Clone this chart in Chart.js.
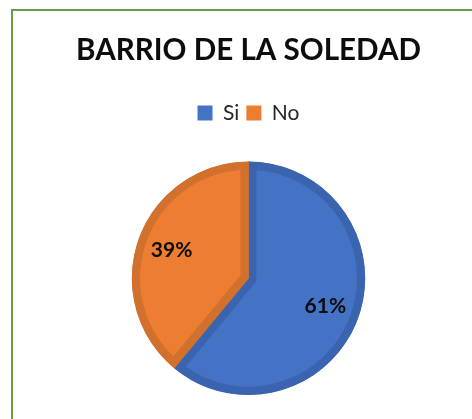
<!DOCTYPE html>
<html>
<head>
<meta charset="utf-8">
<script src="https://cdn.jsdelivr.net/npm/chart.js@4/dist/chart.umd.min.js"></script>
<style>
  html, body { margin: 0; padding: 0; background: #fff; overflow: hidden; }
  #frame { position: absolute; left: 11px; top: 9px; width: 600px; height: 600px;
           border-left: 2px solid #6A9B46; border-top: 2px solid #6A9B46; }
  #c { position: absolute; left: 0; top: 0; }
</style>
</head>
<body>
<div id="frame"></div>
<canvas id="c" width="472" height="419"></canvas>
<script>
const chartTitle = 'BARRIO DE LA SOLEDAD';
const categories = ['Si', 'No'];
const values = [61, 39];
const fillColors = ['#4472C4', '#ED7D31'];
const borderColors = ['#3A64B0', '#D2702D'];

const pctLabels = {
  id: 'pctLabels',
  afterDatasetsDraw(chart) {
    const ctx = chart.ctx;
    const meta = chart.getDatasetMeta(0);
    const data = chart.data.datasets[0].data;
    const total = data.reduce((a, b) => a + b, 0);
    ctx.save();
    ctx.font = 'bold 21px Lato, "Open Sans", sans-serif';
    ctx.fillStyle = '#0d0d0d';
    ctx.textAlign = 'center';
    ctx.textBaseline = 'middle';
    meta.data.forEach((arc, i) => {
      const p = arc.getProps(['x', 'y', 'startAngle', 'endAngle', 'outerRadius'], true);
      const mid = (p.startAngle + p.endAngle) / 2;
      const r = p.outerRadius * 0.7;
      const x = p.x + Math.cos(mid) * r;
      const y = p.y + Math.sin(mid) * r;
      ctx.fillText(Math.round(data[i] / total * 100) + '%', x, y);
    });
    ctx.restore();
  }
};

const legendExtra = {
  id: 'legendExtra',
  beforeInit(chart) {
    const orig = chart.legend.fit;
    chart.legend.fit = function () {
      orig.call(this);
      this.height += 28;
    };
  }
};

new Chart(document.getElementById('c'), {
  type: 'pie',
  data: {
    labels: categories,
    datasets: [{
      data: values,
      backgroundColor: fillColors,
      borderColor: borderColors,
      borderWidth: 8,
      borderAlign: 'inner',
      hoverOffset: 0
    }]
  },
  options: {
    responsive: false,
    animation: false,
    layout: { padding: { top: 20, left: 25, right: 0, bottom: 24 } },
    plugins: {
      title: {
        display: true,
        text: chartTitle,
        color: '#0d0d0d',
        font: { family: 'Lato, "Open Sans", sans-serif', size: 29.6, weight: 'bold', lineHeight: 1.2 },
        padding: { top: 13, bottom: 27 }
      },
      legend: {
        display: true,
        position: 'top',
        labels: {
          boxWidth: 15,
          boxHeight: 15,
          padding: 7,
          color: '#262626',
          font: { family: 'Lato, "Open Sans", sans-serif', size: 21 },
          generateLabels(chart) {
            return chart.data.labels.map((lab, i) => ({
              text: lab,
              fillStyle: fillColors[i],
              strokeStyle: fillColors[i],
              lineWidth: 0,
              fontColor: '#262626',
              hidden: false,
              index: i
            }));
          }
        }
      },
      tooltip: { enabled: false }
    }
  },
  plugins: [pctLabels, legendExtra]
});
</script>
</body>
</html>
